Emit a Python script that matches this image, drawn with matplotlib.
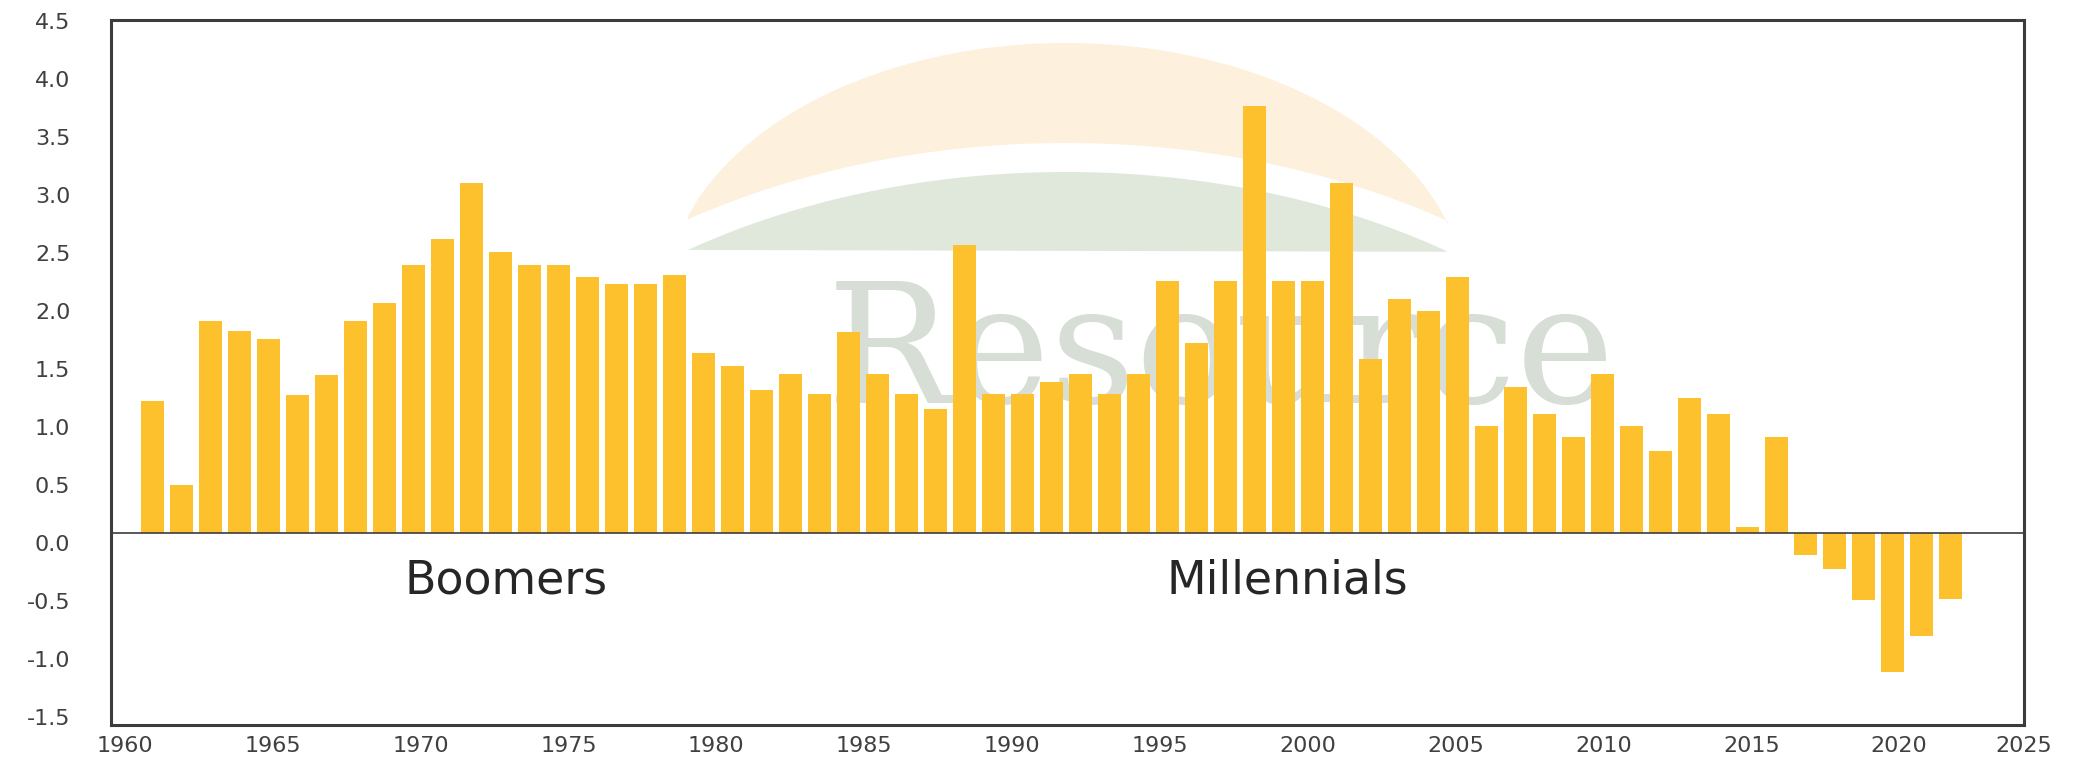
import numpy as np
import matplotlib
matplotlib.use("Agg")
import matplotlib.pyplot as plt
from matplotlib.patches import Polygon

# -------------------------
# data
# -------------------------
years = list(range(1961, 2024))
values = [
    1.14, 0.41, 1.83, 1.74, 1.67, 1.19, 1.36, 1.83, 1.98, 2.31,   # 1961-1970
    2.53, 3.02, 2.42, 2.31, 2.31, 2.21, 2.15, 2.15, 2.22, 1.55,   # 1971-1980
    1.44, 1.23, 1.37, 1.20, 1.73, 1.37, 1.20, 1.07, 2.48, 1.20,   # 1981-1990
    1.20, 1.30, 1.37, 1.20, 1.37, 2.17, 1.64, 2.17, 3.68, 2.17,   # 1991-2000
    2.17, 3.02, 1.50, 2.02, 1.91, 2.21, 0.92, 1.26, 1.03, 0.83,   # 2001-2010
    1.37, 0.92, 0.71, 1.16, 1.03, 0.05, 0.83, -0.19, -0.31, -0.58,  # 2011-2020
    -1.20, -0.89, -0.57,                                          # 2021-2023
]
xtick_years = list(range(1960, 2030, 5))
ytick_values = [-1.5, -1.0, -0.5, 0.0, 0.5, 1.0, 1.5, 2.0, 2.5, 3.0, 3.5, 4.0, 4.5]
generations = ["Boomers", "Millennials"]
generation_pos = [(1973.2, -0.41), (2000.15, -0.41)]

BAR_COLOR = "#FDC12E"
AXIS_COLOR = "#3c3c3c"
W, H = 2083, 767
XLIM = (1959.57, 2025.54)
YLIM = (-1.655, 4.422)


def px(x, y):
    """top-left pixel -> display coords (bottom-left origin)."""
    return (x, H - y)


def arc(cx, cy, a, b, x0, x1, n=80):
    xs = np.linspace(x0, x1, n)
    ys = cy - b * np.sqrt(np.clip(1 - ((xs - cx) / a) ** 2, 0, 1))
    return xs, ys


def draw_watermark(fig, ax):
    # light logo behind the bars: orange crescent, green dome, serif word
    cx = 1066
    ox, oy = arc(cx, 300, 400, 257, 688, 1448)
    ix, iy = arc(cx, 600, 683, 457, 1448, 688)
    pts = [px(x, y) for x, y in zip(ox, oy)] + [px(x, y) for x, y in zip(ix, iy)]
    ax.add_patch(Polygon(pts, closed=True, facecolor="#FDF0DC", edgecolor="none",
                         transform=None, zorder=0.5))
    gx, gy = arc(cx, 600, 657, 428, 688, 1448)
    pts = [px(x, y) for x, y in zip(gx, gy)]
    ax.add_patch(Polygon(pts, closed=True, facecolor="#E0E8DB", edgecolor="none",
                         transform=None, zorder=0.5))
    ax.text(1221 / W, 1 - 403 / H, "Resource", fontsize=120, family="DejaVu Serif",
            color="#D6DED5", ha="center", va="baseline", zorder=0.6,
            transform=fig.transFigure)


def main():
    fig = plt.figure(figsize=(W / 100, H / 100), dpi=100)
    left, right = 110.7 / W, 2024 / W
    bottom, top = 1 - 725 / H, 1 - 20 / H
    ax = fig.add_axes([left, bottom, right - left, top - bottom])
    fig.patch.set_facecolor("white")

    draw_watermark(fig, ax)

    ax.bar(years, values, width=0.8, color=BAR_COLOR, zorder=2)
    ax.axhline(0, color=AXIS_COLOR, lw=1.2, zorder=3)

    ax.set_xlim(*XLIM)
    ax.set_ylim(*YLIM)

    # the year labels in the reference are spaced a little wider than the bars
    xpos = [min(1960.06 + (y - 1960) * 1.0196, XLIM[1] - 0.01) for y in xtick_years]
    ax.set_xticks(xpos)
    ax.set_xticklabels([str(y) for y in xtick_years])
    # value labels sit ~10px below their gridline value
    shift = 10 / 116
    ax.set_yticks([v - shift for v in ytick_values])
    ax.set_yticklabels([f"{v:.1f}" for v in ytick_values])
    ax.tick_params(axis="x", length=0, pad=8, labelsize=16, labelcolor="#404040")
    ax.tick_params(axis="y", length=0, pad=29, labelsize=16, labelcolor="#404040")

    for s in ax.spines.values():
        s.set_color(AXIS_COLOR)
        s.set_linewidth(2.2)
        s.set_zorder(4)

    for name, (gx, gy) in zip(generations, generation_pos):
        ax.text(gx, gy, name, fontsize=33, color="#262626", ha="center", va="center",
                zorder=5)

    fig.savefig("out.png", dpi=100, facecolor="white")
    plt.close(fig)


if __name__ == "__main__":
    main()
